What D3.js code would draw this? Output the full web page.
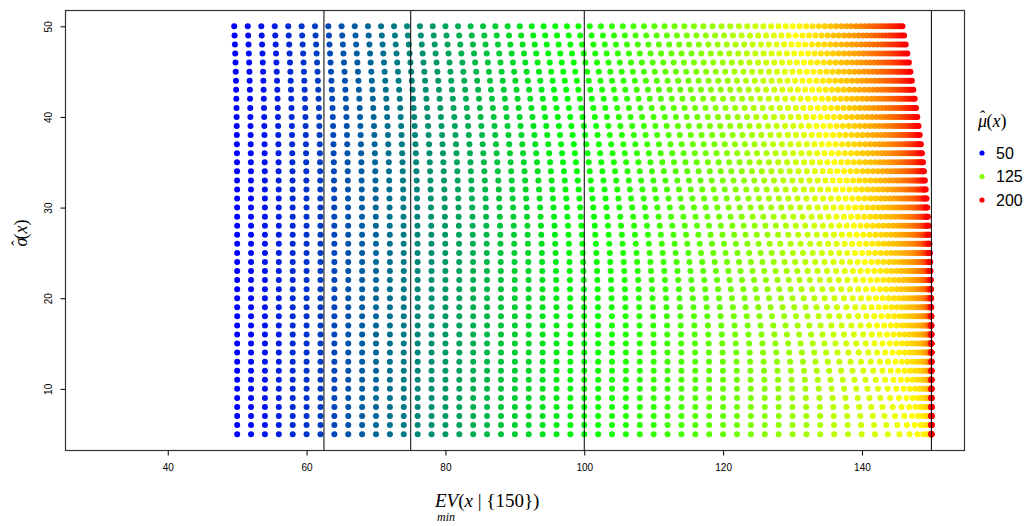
<!DOCTYPE html>
<html><head><meta charset="utf-8">
<script src="https://cdn.jsdelivr.net/npm/d3@7"></script>
<style>body{margin:0;background:#fff}svg{display:block}</style>
</head><body>
<script>
// grid of mu-hat values (columns) and sigma-hat values (rows)
const muValues = [50,52,54,56,58,60,62,64,66,68,70,72,74,76,78,80,82,84,86,88,90,92,94,96,98,100,102,104,106,108,110,112,114,116,118,120,122,124,126,128,130,132,134,136,138,140,142,144,146,148,150,152,154,156,158,160,162,164,166,168,170,172,174,176,178,180,182,184,186,188,190,192,194,196,198,200];
const sigmaValues = [5,6,7,8,9,10,11,12,13,14,15,16,17,18,19,20,21,22,23,24,25,26,27,28,29,30,31,32,33,34,35,36,37,38,39,40,41,42,43,44,45,46,47,48,49,50];
const threshold = 150;
const vLines = [62.5, 75, 100, 150];
const xTicks = [40, 60, 80, 100, 120, 140];
const yTicks = [10, 20, 30, 40, 50];
const legendValues = [50, 125, 200];
const colorStops = [50, 100, 150, 200];
const colorRange = ["#0000FF", "#00FF00", "#FFFF00", "#FF0000"];

// normal helpers for EV_min(x|{150}) = E[min(X,150)], X ~ N(mu, sigma)
function erf(x){const s=Math.sign(x);x=Math.abs(x);const t=1/(1+0.3275911*x);
 const y=1-(((((1.061405429*t-1.453152027)*t)+1.421413741)*t-0.284496736)*t+0.254829592)*t*Math.exp(-x*x);return s*y;}
const Phi = z => 0.5*(1+erf(z/Math.SQRT2));
const phi = z => Math.exp(-z*z/2)/Math.sqrt(2*Math.PI);
function evMin(mu, s, c){const z=(c-mu)/s;return mu-((mu-c)*(1-Phi(z))+s*phi(z));}

const points = [];
sigmaValues.forEach(s => muValues.forEach(m => points.push({mu:m, sigma:s, ev:evMin(m,s,threshold)})));

const W=1033,H=526;
const svg=d3.select("body").append("svg").attr("width",W).attr("height",H);
const x=d3.scaleLinear().domain([25.2,154.8]).range([65,964.7]);
const y=d3.scaleLinear().domain([3.2,51.8]).range([450.5,10]);
const color=d3.scaleLinear().domain(colorStops).range(colorRange);

svg.append("defs").append("clipPath").attr("id","clip").append("rect")
 .attr("x",65).attr("y",10).attr("width",964.7-65).attr("height",440.5);

const g=svg.append("g").attr("clip-path","url(#clip)");
g.selectAll("circle").data(points).enter().append("circle")
 .attr("cx",d=>x(d.ev)).attr("cy",d=>y(d.sigma)).attr("r",3)
 .attr("fill",d=>color(d.mu));
g.selectAll("line.v").data(vLines).enter().append("line").attr("class","v")
 .attr("x1",d=>x(d)).attr("x2",d=>x(d)).attr("y1",10).attr("y2",450.5)
 .attr("stroke","#000").attr("stroke-width",1);

// box
svg.append("rect").attr("x",65.5).attr("y",10.5).attr("width",899).attr("height",440)
 .attr("fill","none").attr("stroke","#333").attr("stroke-width",1.2);

// x axis
const xa=svg.append("g").attr("transform","translate(0,450.5)")
 .call(d3.axisBottom(x).tickValues(xTicks).tickSize(5).tickPadding(8).tickFormat(d3.format("d")));
xa.select(".domain").remove();
xa.selectAll("text").attr("font-family","Liberation Sans, Arial, sans-serif").attr("font-size",10).attr("fill","#000");
xa.selectAll("line").attr("stroke","#000");

// y axis
const ya=svg.append("g").attr("transform","translate(65.5,0)")
 .call(d3.axisLeft(y).tickValues(yTicks).tickSize(5).tickFormat(d3.format("d")));
ya.select(".domain").remove();
ya.selectAll("line").attr("stroke","#000");
ya.selectAll("text").attr("font-family","Liberation Sans, Arial, sans-serif").attr("font-size",10).attr("fill","#000")
 .attr("x",0).attr("dy",null).attr("text-anchor","middle")
 .attr("transform","translate(-14,0) rotate(-90)");

// axis titles
const serif="Liberation Serif, Times New Roman, serif";
const xl=svg.append("text").attr("x",435).attr("y",507).attr("font-family",serif).attr("font-size",19).attr("fill","#000");
xl.append("tspan").attr("font-style","italic").text("EV");
xl.append("tspan").text("(");
xl.append("tspan").attr("font-style","italic").text("x");
xl.append("tspan").text(" | {150})");
svg.append("text").attr("x",437).attr("y",521).attr("font-family",serif).attr("font-size",12).attr("font-style","italic").text("min");

// y title: sigma-hat(x)
const yl=svg.append("text").attr("transform","translate(27,233) rotate(-90)").attr("text-anchor","middle")
 .attr("font-family",serif).attr("font-size",18).attr("fill","#000");
yl.append("tspan").attr("font-style","italic").text("σ");
yl.append("tspan").attr("dx",-8).attr("dy",-4).attr("font-size",16).text("\u02C6");
yl.append("tspan").attr("dx",1).attr("dy",4).text("(");
yl.append("tspan").attr("font-style","italic").text("x");
yl.append("tspan").text(")");

// legend
const lt=svg.append("text").attr("x",978).attr("y",127).attr("font-family",serif).attr("font-size",18).attr("fill","#000");
lt.append("tspan").attr("font-style","italic").text("μ");
lt.append("tspan").attr("dx",-7).attr("dy",-5).attr("font-size",16).text("\u02C6");
lt.append("tspan").attr("dx",1).attr("dy",5).text("(");
lt.append("tspan").attr("font-style","italic").text("x");
lt.append("tspan").text(")");
const lg=svg.append("g").selectAll("g").data(legendValues).enter().append("g")
 .attr("transform",(d,i)=>`translate(982,${153+i*23.5})`);
lg.append("circle").attr("r",2.6).attr("fill",d=>color(d));
lg.append("text").attr("x",14).attr("dy","0.35em").attr("font-family","Liberation Sans, Arial, sans-serif")
 .attr("font-size",16).attr("fill","#000").text(d=>d);
</script>
</body></html>
